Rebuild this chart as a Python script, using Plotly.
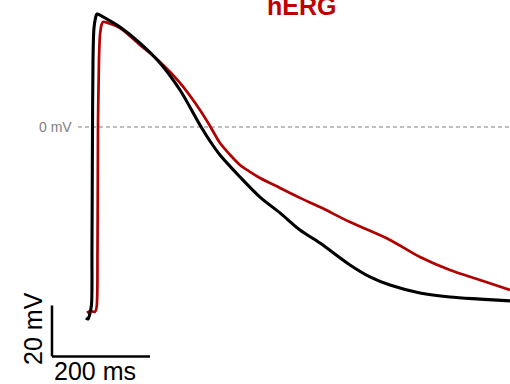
import plotly.graph_objects as go

# Control trace (black): time in ms, voltage in mV
ctrl_t = [69.4, 73.5, 77.6, 80.6, 81.6, 82.7, 83.7, 85.7, 88.8, 91.8, 98.0, 118.4, 138.8,
          179.6, 220.4, 261.2, 302.0, 322.4, 342.9, 383.7, 424.5, 465.3, 506.1, 546.9,
          608.2, 649.0, 689.8, 751.0, 812.2, 873.5, 934.7]
ctrl_v = [-74.9, -75.3, -72.9, -69.8, -48.2, 0.0, 26.3, 38.8, 42.7, 44.3, 43.9, 41.6, 39.2,
          32.9, 25.1, 14.5, 0.8, -5.5, -11.0, -19.6, -27.5, -33.7, -40.4, -45.5,
          -54.1, -58.8, -62.0, -65.1, -66.7, -67.5, -68.2]

# hERG-block trace (red)
herg_t = [71.4, 77.6, 87.8, 90.8, 92.9, 93.9, 95.9, 98.0, 101.0, 104.1, 114.3, 138.8,
          179.6, 220.4, 261.2, 302.0, 322.4, 342.9, 363.3, 383.7, 404.1, 424.5, 465.3,
          506.1, 546.9, 608.2, 689.8, 751.0, 812.2, 873.5, 934.7]
herg_v = [-72.9, -72.2, -72.5, -71.0, -48.2, 0.0, 26.3, 36.1, 40.0, 41.2, 40.8, 38.8,
          32.2, 25.5, 17.3, 6.7, 0.4, -6.3, -10.9, -14.9, -17.6, -20.0, -23.9,
          -27.8, -31.4, -37.3, -44.3, -51.0, -56.1, -60.0, -63.9]

scale_t = [0, 200]      # ms, horizontal scale bar
scale_v = [-70, -90]    # mV, vertical scale bar
title = "hERG"

fig = go.Figure()
fig.add_trace(go.Scatter(x=herg_t, y=herg_v, mode="lines",
                         line=dict(color="#b00000", width=2.7, shape="spline", smoothing=0.9),
                         showlegend=False, hoverinfo="skip"))
fig.add_trace(go.Scatter(x=ctrl_t, y=ctrl_v, mode="lines",
                         line=dict(color="#000000", width=3.1, shape="spline", smoothing=0.9),
                         showlegend=False, hoverinfo="skip"))

# 0 mV dashed reference
fig.add_shape(type="line", x0=53, x1=934.7, y0=0, y1=0, xref="x", yref="y",
              line=dict(color="#808080", width=1.2, dash="4px,3px"), layer="below")
# scale bars
fig.add_shape(type="line", x0=scale_t[0], x1=scale_t[0], y0=scale_v[0], y1=scale_v[1],
              line=dict(color="black", width=2.5))
fig.add_shape(type="line", x0=scale_t[0], x1=scale_t[1], y0=scale_v[1], y1=scale_v[1],
              line=dict(color="black", width=2.5))

fig.add_annotation(x=45, y=0, text="0 mV", showarrow=False, xanchor="right", yanchor="middle",
                   font=dict(family="Liberation Sans", size=14, color="#808080"))
fig.add_annotation(x=-38.8, y=-78.8, text="20 mV", showarrow=False, textangle=-90,
                   xanchor="center", yanchor="middle",
                   font=dict(family="Liberation Sans", size=25, color="black"))
fig.add_annotation(x=87.8, y=-100.8, text="200 ms", showarrow=False,
                   xanchor="center", yanchor="bottom", borderpad=0, yshift=-2,
                   font=dict(family="Liberation Sans", size=25, color="black"))
fig.add_annotation(x=510, y=41.2, text="<b>" + title + "</b>", showarrow=False,
                   xanchor="center", yanchor="bottom",
                   font=dict(family="Liberation Sans", size=25, color="#c00000"))

fig.update_layout(
    width=510, height=384, margin=dict(l=0, r=0, t=0, b=0),
    paper_bgcolor="white", plot_bgcolor="white",
    xaxis=dict(range=[-106.1, 934.7], visible=False, fixedrange=True),
    yaxis=dict(range=[-100.8, 49.8], visible=False, fixedrange=True),
)
fig.write_html("out.html")
